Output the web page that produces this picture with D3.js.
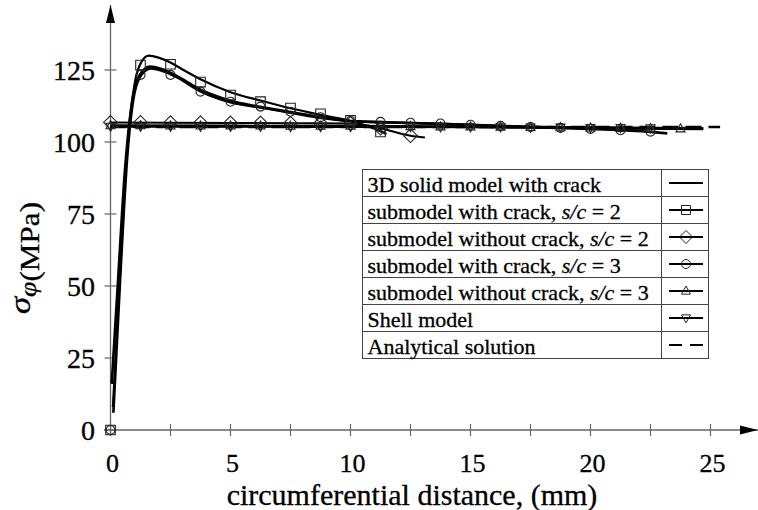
<!DOCTYPE html>
<html>
<head>
<meta charset="utf-8">
<script src="https://cdn.jsdelivr.net/npm/d3@7"></script>
<style>
  body { margin: 0; background: #fff; }
  svg { display: block; font-family: 'Liberation Serif', 'Times New Roman', serif; }
  text { stroke: #000; stroke-width: 0.3; }
</style>
</head>
<body>
<script>
// values
const markerX = [0, 1.25, 2.5, 3.75, 5, 6.25, 7.5, 8.75, 10, 11.25, 12.5, 13.75, 15, 16.25, 17.5, 18.75, 20, 21.25, 22.5, 23.75];

const solidX = [0.05, 0.3, 0.6, 0.9, 1.2, 1.65, 2.1, 2.6, 3.2, 3.75, 4.4, 5, 6.25, 7.5, 8.75, 10, 10.5, 12, 14, 16.25, 18, 20, 22, 24.7];
const solidY = [16, 50, 90, 114, 123, 126.2, 125.4, 123.6, 120.8, 118.2, 116, 114.3, 112.2, 110.4, 108.6, 107.3, 107.1, 106.7, 106.2, 105.5, 105.2, 104.9, 104.7, 104.5];

const crack2X = [0.1, 0.4, 0.7, 1, 1.3, 1.6, 2, 2.5, 3, 3.75, 5, 6.25, 7.5, 8.75, 10, 10.6, 11.5];
const crack2Y = [8, 55, 98, 120, 128, 130, 129.3, 127.6, 125.2, 121.8, 117.3, 114.4, 111.7, 109.4, 107.3, 105.8, 102.8];
const crack2M = [0, 126.7, 127, 120.8, 116.3, 114, 111.8, 109.8, 107.5, 103.5];

const nocrack2X = [0, 2.5, 5, 7.5, 10, 10.4, 11.25, 12.5, 13.1];
const nocrack2Y = [106.8, 106.7, 106.6, 106.5, 106.4, 106.2, 104.8, 102.2, 101.6];
const nocrack2M = [106.8, 106.8, 106.7, 106.7, 106.6, 106.6, 106.5, 106.5, 106.4, 104.8, 102.2];

const crack3X = [0.12, 0.4, 0.7, 1, 1.3, 1.7, 2.2, 2.7, 3.75, 5, 6.25, 7.5, 8.75, 10, 11.25, 12.5, 15, 17.5, 20, 22.5, 23.2];
const crack3Y = [6, 52, 95, 117, 123.5, 125.5, 124.6, 122.8, 117.6, 113.8, 112, 110.2, 108.4, 107.2, 106.9, 106.6, 106, 105.2, 104.5, 103.5, 103];
const crack3M = [0, 123.3, 123.3, 117.5, 114, 112.3, 110.5, 108.6, 107.3, 107, 106.7, 106.4, 106, 105.6, 105.2, 104.9, 104.5, 104.1, 103.6];

const nocrack3X = [0, 5, 10, 15, 20, 23.75];
const nocrack3Y = [105.7, 105.6, 105.5, 105.3, 104.9, 104.6];
const nocrack3M = [105.7, 105.7, 105.6, 105.6, 105.6, 105.6, 105.5, 105.5, 105.5, 105.4, 105.4, 105.3, 105.3, 105.2, 105.1, 105.0, 104.9, 104.8, 104.7, 104.6];

const shellX = [0, 5, 10, 15, 20, 24.7];
const shellY = [105.4, 105.4, 105.3, 105.2, 105.0, 104.8];
const shellM = [105.4, 105.4, 105.4, 105.4, 105.4, 105.4, 105.3, 105.3, 105.3, 105.3, 105.3, 105.2, 105.2, 105.2, 105.1, 105.1, 105.0, 105.0, 104.9];

const analyticX = [0, 25.4];
const analyticY = [105.2, 105.2];

const xTicks = [0, 2.5, 5, 7.5, 10, 12.5, 15, 17.5, 20, 22.5, 25];
const xLabels = [0, 5, 10, 15, 20, 25];
const yTicks = [0, 25, 50, 75, 100, 125];

const legendLabels = [
    '3D solid model with crack',
    'submodel with crack, |s/c| = 2',
    'submodel without crack, |s/c| = 2',
    'submodel with crack, |s/c| = 3',
    'submodel without crack, |s/c| = 3',
    'Shell model',
    'Analytical solution'
];
const legendSymbols = ['none', 'square', 'diamond', 'circle', 'up', 'down', 'dash'];

const width = 758, height = 510;

const x = d3.scaleLinear().domain([0, 25]).range([110.5, 710.5]);
const y = d3.scaleLinear().domain([0, 125]).range([430, 70]);

const svg = d3.select('body')
    .append('svg')
    .attr('width', width)
    .attr('height', height);

const defs = svg.append('defs');
defs.append('marker')
    .attr('id', 'arrow')
    .attr('viewBox', '0 -5 18 10')
    .attr('refX', 18)
    .attr('refY', 0)
    .attr('markerUnits', 'userSpaceOnUse')
    .attr('markerWidth', 18)
    .attr('markerHeight', 10)
    .attr('orient', 'auto')
    .append('path')
    .attr('d', 'M0,-4.5L18,0L0,4.5Z')
    .attr('fill', '#000');

// axes
const axisColor = '#666';
svg.append('line')
    .attr('x1', 104).attr('y1', y(0))
    .attr('x2', 758).attr('y2', y(0))
    .attr('stroke', axisColor).attr('stroke-width', 1.3)
    .attr('marker-end', 'url(#arrow)');
svg.append('line')
    .attr('x1', x(0)).attr('y1', y(0) + 6)
    .attr('x2', x(0)).attr('y2', 5)
    .attr('stroke', axisColor).attr('stroke-width', 1.3)
    .attr('marker-end', 'url(#arrow)');

svg.selectAll('.xtick')
    .data(xTicks)
    .enter()
    .append('line')
    .attr('x1', d => x(d)).attr('x2', d => x(d))
    .attr('y1', y(0) - 6).attr('y2', y(0) + 6)
    .attr('stroke', axisColor).attr('stroke-width', 1.2);

svg.selectAll('.ytick')
    .data(yTicks)
    .enter()
    .append('line')
    .attr('x1', x(0) - 6).attr('x2', x(0) + 6)
    .attr('y1', d => y(d)).attr('y2', d => y(d))
    .attr('stroke', axisColor).attr('stroke-width', 1.2);

svg.selectAll('.xlabel')
    .data(xLabels)
    .enter()
    .append('text')
    .attr('x', d => x(d) + 2)
    .attr('y', 472)
    .attr('text-anchor', 'middle')
    .attr('font-size', 26)
    .text(d => d);

svg.selectAll('.ylabel')
    .data(yTicks)
    .enter()
    .append('text')
    .attr('x', 95)
    .attr('y', d => y(d) + 9.5)
    .attr('text-anchor', 'end')
    .attr('font-size', 28)
    .text(d => d);

svg.append('text')
    .attr('x', 412)
    .attr('y', 505)
    .attr('text-anchor', 'middle')
    .attr('font-size', 30)
    .text('circumferential distance, (mm)');

const yTitle = svg.append('text')
    .attr('transform', 'translate(39,258) rotate(-90)')
    .attr('text-anchor', 'middle')
    .attr('font-size', 27)
    .attr('textLength', 112)
    .attr('lengthAdjust', 'spacingAndGlyphs');
yTitle.append('tspan').attr('font-style', 'italic').attr('font-size', 30).attr('dy', -9).text('σ');
yTitle.append('tspan').attr('font-style', 'italic').attr('font-size', 24).attr('dy', 6).text('φ');
yTitle.append('tspan').attr('dy', 3).text('(MPa)');

// series
const line = d3.line()
    .x(d => x(d[0]))
    .y(d => y(d[1]))
    .curve(d3.curveMonotoneX);

function drawLine(xs, ys, opts) {
    svg.append('path')
        .datum(d3.zip(xs, ys))
        .attr('d', line)
        .attr('fill', 'none')
        .attr('stroke', '#000')
        .attr('stroke-width', opts.width || 2.6)
        .attr('stroke-dasharray', opts.dash || null);
}

const symbolPaths = {
    square: s => `M${-s},${-s}H${s}V${s}H${-s}Z`,
    diamond: s => `M0,${-s * 1.3}L${s * 1.3},0L0,${s * 1.3}L${-s * 1.3},0Z`,
    circle: s => `M${-s},0A${s},${s} 0 1,0 ${s},0A${s},${s} 0 1,0 ${-s},0`,
    up: s => `M0,${-s * 1.1}L${s},${s * 0.7}L${-s},${s * 0.7}Z`,
    down: s => `M0,${s * 1.1}L${s},${-s * 0.7}L${-s},${-s * 0.7}Z`
};

function drawMarkers(vals, sym, s) {
    svg.append('g')
        .selectAll('path')
        .data(vals)
        .enter()
        .append('path')
        .attr('transform', (d, i) => `translate(${x(markerX[i])},${y(d)})`)
        .attr('d', symbolPaths[sym](s))
        .attr('fill', 'none')
        .attr('stroke', '#222')
        .attr('stroke-width', 1.1);
}

drawLine(analyticX, analyticY, {width: 2.6, dash: '16,7'});
drawLine(shellX, shellY, {});
drawLine(nocrack3X, nocrack3Y, {});
drawLine(nocrack2X, nocrack2Y, {width: 2});
drawLine(crack3X, crack3Y, {});
drawLine(solidX, solidY, {});
drawLine(crack2X, crack2Y, {width: 2.2});

drawMarkers(shellM, 'down', 4.5);
drawMarkers(nocrack3M, 'up', 4.5);
drawMarkers(nocrack2M, 'diamond', 5.3);
drawMarkers(crack3M, 'circle', 4.5);
drawMarkers(crack2M, 'square', 4.8);

// legend
const lg = svg.append('g');
const lgX = 362.5, lgY = 169.5, lgW = 346, rowH = 27, sepX = 661.5;
lg.append('rect')
    .attr('x', lgX).attr('y', lgY)
    .attr('width', lgW).attr('height', rowH * legendLabels.length)
    .attr('fill', '#fff')
    .attr('stroke', '#444')
    .attr('stroke-width', 1);
lg.append('line')
    .attr('x1', sepX).attr('x2', sepX)
    .attr('y1', lgY).attr('y2', lgY + rowH * legendLabels.length)
    .attr('stroke', '#444');
lg.selectAll('.row')
    .data(legendLabels.slice(1))
    .enter()
    .append('line')
    .attr('x1', lgX).attr('x2', lgX + lgW)
    .attr('y1', (d, i) => lgY + rowH * (i + 1))
    .attr('y2', (d, i) => lgY + rowH * (i + 1))
    .attr('stroke', '#444');

legendLabels.forEach((lab, i) => {
    const t = lg.append('text')
        .attr('x', lgX + 5)
        .attr('y', lgY + rowH * i + 22)
        .attr('font-size', 22);
    const parts = lab.split('|');
    parts.forEach((p, j) => {
        t.append('tspan')
            .attr('font-style', j === 1 ? 'italic' : null)
            .text(p);
    });

    const cy = lgY + rowH * i + rowH / 2;
    const sym = legendSymbols[i];
    lg.append('line')
        .attr('x1', 669).attr('x2', 703)
        .attr('y1', cy).attr('y2', cy)
        .attr('stroke', '#000')
        .attr('stroke-width', 2)
        .attr('stroke-dasharray', sym === 'dash' ? '13,8' : null);
    if (symbolPaths[sym]) {
        lg.append('path')
            .attr('transform', `translate(686,${cy})`)
            .attr('d', symbolPaths[sym](sym === 'diamond' ? 5 : 4.5))
            .attr('fill', 'none')
            .attr('stroke', '#222')
            .attr('stroke-width', 1);
    }
});
</script>
</body>
</html>
